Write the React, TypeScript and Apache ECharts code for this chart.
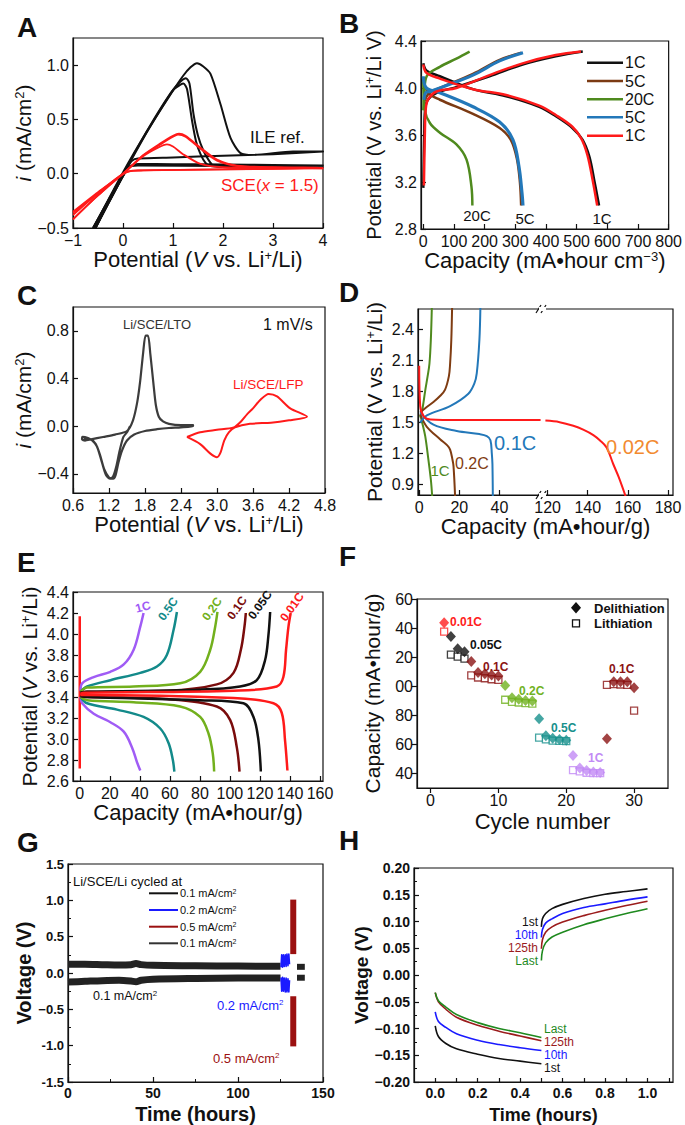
import React, { useEffect, useRef } from 'react';
import * as echarts from 'echarts';

const FONT = "'Liberation Sans', Arial, Helvetica, sans-serif";
const INK = '#111111';

// ===================== Panel A =====================
const A_X_TICKS = [-1, 0, 1, 2, 3, 4];
const A_Y_TICKS = [-0.5, 0, 0.5, 1.0];
const A_ILE_1 = [[-0.59,-0.5],[0.01,0.02],[0.48,0.39],[0.95,0.73],[1.2,0.9],[1.35,0.98],[1.48,1.018],[1.6,0.99],[1.75,0.92],[1.95,0.64],[2.15,0.33],[2.35,0.19],[2.6,0.172],[3.4,0.205],[4.0,0.205],[3.0,0.18],[2.0,0.165],[1.0,0.15],[0.3,0.14],[0.18,0.12],[0.08,0.05],[0.0,-0.02],[-0.3,-0.28],[-0.55,-0.5]];
const A_ILE_2 = [[-0.6,-0.5],[0,0],[0.5,0.41],[0.95,0.74],[1.15,0.85],[1.26,0.88],[1.33,0.83],[1.41,0.55],[1.5,0.35],[1.61,0.21],[1.72,0.12],[1.81,0.075],[2.2,0.06],[3,0.07],[4,0.075],[3,0.08],[2,0.085],[1,0.088],[0.3,0.09],[0.15,0.07],[0.05,0.02],[-0.55,-0.5]];
const A_ILE_3 = [[-0.6,-0.5],[0,-0.01],[0.5,0.4],[1.0,0.77],[1.15,0.82],[1.21,0.83],[1.28,0.78],[1.38,0.49],[1.46,0.3],[1.55,0.18],[1.65,0.1],[1.75,0.07],[2.5,0.055],[4,0.06],[2,0.07],[0.3,0.075],[0.1,0.05],[-0.55,-0.5]];
const A_SCE_1 = [[-1,-0.35],[-0.5,-0.17],[0,0],[0.4,0.17],[0.75,0.28],[1.0,0.35],[1.12,0.37],[1.25,0.35],[1.55,0.24],[1.88,0.13],[2.28,0.075],[3,0.06],[4,0.055],[3,0.045],[2,0.04],[0.4,0.03],[0.1,0.02],[-0.5,-0.2],[-1,-0.42]];
const A_SCE_2 = [[-1,-0.42],[-0.5,-0.2],[0,0],[0.4,0.16],[0.7,0.24],[0.88,0.27],[1.0,0.25],[1.2,0.18],[1.55,0.09],[2,0.06],[4,0.05],[2,0.04],[0.3,0.03],[0,0],[-0.5,-0.18],[-1,-0.36]];
const A_SCE_3 = [[-1,-0.38],[-0.5,-0.18],[0,0],[0.4,0.165],[0.75,0.27],[1.0,0.34],[1.1,0.36],[1.25,0.34],[1.55,0.23],[1.88,0.12],[2.3,0.07],[4,0.05]];

// ===================== Panel B =====================
const B_X_TICKS = [0, 100, 200, 300, 400, 500, 600, 700, 800];
const B_Y_TICKS = [2.8, 3.2, 3.6, 4.0, 4.4];
const B_1C_DIS_BLACK = [[0,4.21],[10,4.15],[54,4.1],[162,3.99],[270,3.93],[378,3.84],[432,3.76],[486,3.66],[519,3.56],[541,3.42],[557,3.22],[573,3.0]];
const B_1C_CH_BLACK = [[0,3.15],[3,3.6],[6,3.82],[15,3.9],[45,3.96],[110,4.01],[216,4.1],[324,4.2],[432,4.27],[520,4.31]];
const B_5C_DIS_BROWN = [[0,4.05],[20,3.95],[54,3.9],[162,3.78],[249,3.66],[285,3.56],[305,3.4],[315,3.2],[319,3.0]];
const B_5C_CH_BROWN = [[2,3.88],[20,3.96],[54,4.0],[162,4.12],[249,4.24],[320,4.3]];
const B_20C_DIS = [[0,4.07],[5,3.81],[22,3.7],[54,3.62],[108,3.52],[141,3.39],[157,3.16],[160,3.0]];
const B_20C_CH = [[0,3.81],[3,3.95],[11,4.1],[54,4.18],[108,4.25],[151,4.31]];
const B_5C_DIS_BLUE = [[0,4.1],[10,4.0],[54,3.96],[162,3.84],[249,3.71],[292,3.56],[312,3.33],[322,3.1],[325,3.0]];
const B_5C_CH_BLUE = [[2,3.9],[8,3.96],[22,3.97],[54,4.0],[162,4.11],[249,4.23],[325,4.3]];
const B_1C_DIS_RED = [[0,4.2],[10,4.13],[54,4.08],[162,3.99],[270,3.94],[378,3.85],[432,3.77],[486,3.67],[515,3.57],[535,3.43],[552,3.22],[567,3.0]];
const B_1C_CH_RED = [[2,3.17],[5,3.6],[8,3.82],[15,3.9],[43,3.97],[108,4.0],[216,4.11],[324,4.21],[432,4.28],[514,4.31]];
const B_LEGEND = ['1C', '5C', '20C', '5C', '1C'];

// ===================== Panel C =====================
const C_X_TICKS = [0.6, 1.2, 1.8, 2.4, 3.0, 3.6, 4.2, 4.8];
const C_Y_TICKS = [-0.4, 0, 0.4, 0.8];
const C_LTO = [[1.55,0.0],[1.5,-0.05],[1.44,-0.09],[1.38,-0.2],[1.32,-0.34],[1.27,-0.42],[1.22,-0.44],[1.15,-0.41],[1.08,-0.3],[1.0,-0.17],[0.92,-0.12],[0.85,-0.1],[0.76,-0.09],[0.75,-0.11],[0.8,-0.12],[0.9,-0.11],[1.1,-0.09],[1.3,-0.07],[1.5,-0.04],[1.6,0.05],[1.67,0.2],[1.72,0.38],[1.77,0.62],[1.81,0.76],[1.85,0.76],[1.89,0.6],[1.94,0.36],[1.98,0.18],[2.03,0.08],[2.1,0.04],[2.2,0.02],[2.4,0.01],[2.6,0.01],[2.6,0.0],[2.4,-0.01],[2.2,-0.015],[2.0,-0.025],[1.8,-0.04],[1.62,-0.07],[1.5,-0.12],[1.42,-0.2],[1.36,-0.3],[1.31,-0.41],[1.27,-0.44],[1.2,-0.43],[1.12,-0.36],[1.05,-0.24],[0.98,-0.15],[0.9,-0.11],[0.78,-0.1]];
const C_LFP = [[2.5,-0.09],[2.72,-0.15],[2.89,-0.23],[3.0,-0.26],[3.06,-0.22],[3.12,-0.12],[3.2,-0.05],[3.3,-0.01],[3.55,0.02],[3.9,0.03],[4.2,0.05],[4.5,0.08],[4.22,0.15],[4.0,0.25],[3.86,0.27],[3.72,0.22],[3.6,0.15],[3.5,0.1],[3.4,0.04],[3.28,-0.01],[3.0,-0.03],[2.72,-0.05],[2.5,-0.09]];

// ===================== Panel D =====================
const D_X_TICKS = [0, 20, 40, 120, 140, 160, 180];
const D_Y_TICKS = [0.9, 1.2, 1.5, 1.8, 2.1, 2.4];
const D_BREAK_FROM = 62;   // capacity where the axis is cut
const D_BREAK_TO = 118;    // capacity where it resumes
const D_1C_CH = [[0.5,1.55],[1.5,1.62],[3.0,1.81],[4.2,1.95],[5.1,2.07],[5.8,2.3],[6.3,2.62]];
const D_1C_DIS = [[0.5,1.58],[1.5,1.5],[3.0,1.37],[4.6,1.14],[5.8,0.95],[6.5,0.78]];
const D_02C_CH = [[0.5,1.6],[3,1.64],[7.1,1.7],[10.5,1.76],[12.9,1.82],[14.8,1.95],[15.4,2.07],[16,2.3],[16.4,2.62]];
const D_02C_DIS = [[0.5,1.58],[3.8,1.46],[10.4,1.34],[14,1.28],[15.4,1.24],[16.5,1.15],[17.1,1.08],[17.9,0.78]];
const D_01C_CH = [[0.5,1.5],[3.8,1.57],[15.4,1.66],[24.5,1.78],[27.5,1.88],[28.7,1.98],[30,2.3],[30.5,2.62]];
const D_01C_DIS = [[0.5,1.6],[7.1,1.48],[18.7,1.42],[30,1.39],[33.7,1.37],[35.5,1.33],[36.2,1.2],[36.5,1.1],[36.7,0.78]];
const D_002C_A = [[0,2.05],[0.5,1.66],[2.3,1.56],[5.6,1.53],[20,1.525],[40,1.525],[60.5,1.525]];
const D_002C_B = [[118.9,1.52],[126,1.505],[132.8,1.47],[138,1.43],[142.8,1.38],[146,1.33],[149.4,1.26],[152.7,1.1],[155.5,0.97],[159,0.78]];

// ===================== Panel E =====================
const E_X_TICKS = [0, 20, 40, 60, 80, 100, 120, 140, 160];
const E_Y_TICKS = [2.6, 2.8, 3.0, 3.2, 3.4, 3.6, 3.8, 4.0, 4.2, 4.4];
const E_1C_CH = [[0.5,3.46],[1.6,3.53],[9.3,3.59],[20.4,3.64],[29.3,3.71],[35.9,3.85],[40.3,4.07],[42.5,4.2]];
const E_1C_DIS = [[0.5,3.4],[1.6,3.34],[9.3,3.24],[20.4,3.16],[29.3,3.07],[34.8,2.92],[38.1,2.78],[40.3,2.7]];
const E_05C_CH = [[0.5,3.45],[4.9,3.5],[20.4,3.56],[40.3,3.63],[51.4,3.69],[58,3.8],[62.5,4.04],[64.7,4.21]];
const E_05C_DIS = [[0.5,3.4],[4.9,3.34],[24.8,3.28],[42.5,3.21],[53.6,3.1],[59.2,2.96],[62,2.8],[63,2.69]];
const E_02C_CH = [[0.5,3.45],[4.9,3.49],[35.9,3.5],[66.9,3.53],[80.2,3.64],[86.9,3.85],[90.2,4.07],[91.7,4.21]];
const E_02C_DIS = [[0.5,3.4],[4.9,3.37],[35.9,3.35],[66.9,3.31],[80.2,3.21],[85.8,3.05],[88.6,2.86],[89.5,2.69]];
const E_01C_CH = [[0.5,3.44],[4.9,3.45],[58,3.46],[91.3,3.52],[102.4,3.63],[107.3,3.85],[109.7,4.07],[110.6,4.2]];
const E_01C_DIS = [[0.5,3.41],[4.9,3.4],[58,3.38],[91.3,3.31],[100.2,3.18],[104.6,2.92],[106.4,2.69]];
const E_005C_CH = [[0.5,3.44],[4.9,3.45],[80.2,3.47],[106.8,3.5],[117.9,3.56],[123.4,3.75],[125.6,3.98],[126.8,4.21]];
const E_005C_DIS = [[0.5,3.41],[4.9,3.4],[80.2,3.37],[109,3.34],[115.7,3.21],[119,2.99],[120.6,2.69]];
const E_001C_CH = [[0.5,3.43],[2.7,3.44],[102.4,3.46],[131.2,3.5],[135.6,3.59],[137.4,3.85],[139,4.07],[140.5,4.2]];
const E_001C_DIS = [[0.5,3.42],[2.7,3.42],[102.4,3.39],[129,3.34],[134.5,3.25],[136.7,2.99],[138.3,2.7]];
const E_VERT = [[0,2.72],[0,4.17]];
const E_RATES = ['1C', '0.5C', '0.2C', '0.1C', '0.05C', '0.01C'];

// ===================== Panel F =====================
const F_X_TICKS = [0, 10, 20, 30];
const F_Y_TICKS = [40, 60, 80, 100, 120, 140, 160];
const F_CYCLES = [2,3,4,5,6,7,8,9,10,11,12,13,14,15,16,17,18,19,20,21,22,23,24,25,26,27,28,29,30];
const F_DELITH = [143.6,134.2,125.8,123.7,117,109.4,108.5,107.8,107,100.5,92,91,90.2,89.8,77.7,66,64.2,63.3,62.8,52.4,43.7,42.1,41,40.7,63.8,103,103,103,98.9];
const F_LITH = [137.6,121.7,120.3,119,107.5,106,105.5,104.8,104.4,90.7,89.3,88.8,88.4,88,64.7,63.5,62.6,62.4,62.2,42.3,41.4,40.5,40.3,40.3,101,101.4,101.2,101,83.2];
const F_RATE_GROUPS = [
  { first: 2, last: 2, rate: '0.01C' },
  { first: 3, last: 5, rate: '0.05C' },
  { first: 6, last: 10, rate: '0.1C' },
  { first: 11, last: 15, rate: '0.2C' },
  { first: 16, last: 20, rate: '0.5C' },
  { first: 21, last: 25, rate: '1C' },
  { first: 26, last: 30, rate: '0.1C' },
];

// ===================== Panel G =====================
const G_X_TICKS_INTERVAL = 50;
const G_BAND_UP = [[0,0.12],[10,0.12],[20,0.115],[30,0.11],[37,0.115],[40,0.13],[43,0.115],[50,0.105],[75,0.1],[100,0.095],[125,0.093]];
const G_BAND_DN = [[0,-0.125],[10,-0.115],[20,-0.105],[30,-0.1],[37,-0.11],[40,-0.12],[43,-0.1],[50,-0.085],[75,-0.075],[100,-0.07],[125,-0.07]];
const G_BLUE_UP = [[125.3,0.08],[125.7,0.25],[126.2,0.08],[126.7,0.25],[127.2,0.09],[127.8,0.25],[128.3,0.09],[128.8,0.26],[129.4,0.1],[129.9,0.26],[130.3,0.12]];
const G_BLUE_DN = [[125.3,-0.06],[125.7,-0.25],[126.2,-0.06],[126.7,-0.25],[127.2,-0.07],[127.8,-0.26],[128.3,-0.07],[128.8,-0.26],[129.4,-0.08],[129.9,-0.26],[130.3,-0.1]];
const G_RED_UP = [[132.5,0.26],[132.5,1.01]];
const G_RED_DN = [[132.5,-0.32],[132.5,-1.01]];
const G_END_UP = [[134.7,0.085],[139.3,0.085]];
const G_END_DN = [[134.7,-0.065],[139.3,-0.065]];
const G_LEGEND = ['0.1 mA/cm', '0.2 mA/cm', '0.5 mA/cm', '0.1 mA/cm'];

// ===================== Panel H =====================
const H_T_DIS = [0, 0.015, 0.05, 0.1, 0.2, 0.3, 0.4, 0.5];
const H_T_CH = [0.5, 0.505, 0.52, 0.55, 0.6, 0.7, 0.8, 0.9, 1.0];
const H_1ST_DIS = [-0.095,-0.115,-0.128,-0.138,-0.148,-0.156,-0.161,-0.166];
const H_10TH_DIS = [-0.069,-0.087,-0.098,-0.11,-0.122,-0.13,-0.136,-0.141];
const H_125TH_DIS = [-0.033,-0.05,-0.064,-0.079,-0.094,-0.105,-0.114,-0.123];
const H_LAST_DIS = [-0.033,-0.048,-0.06,-0.074,-0.089,-0.1,-0.108,-0.117];
const H_1ST_CH = [0.09,0.105,0.115,0.124,0.132,0.143,0.151,0.156,0.161];
const H_10TH_CH = [0.07,0.085,0.097,0.105,0.115,0.126,0.133,0.14,0.146];
const H_125TH_CH = [0.049,0.066,0.08,0.09,0.099,0.111,0.121,0.13,0.138];
const H_LAST_CH = [0.027,0.045,0.06,0.071,0.08,0.094,0.105,0.115,0.124];
const H_NAMES = ['1st', '10th', '125th', 'Last'];

// ===================== colours =====================
const RED = '#ff1a1a';
const B_COLORS = [INK, '#7b3a13', '#4f8a1e', '#2378b9', RED];
const D_COLORS = { c1: '#4f8a1e', c02: '#7f3c12', c01: '#2378b9', c002: RED, lab002: '#f28a30' };
const E_COLORS = ['#a05cf5', '#138a8a', '#72b01d', '#7a0c0c', INK, RED];
const F_COLORS: Record<string, string> = { '0.01C': '#ff2020', '0.05C': INK, '0.1C': '#8b1414', '0.2C': '#71b21f', '0.5C': '#17908c', '1C': '#c28af5' };
const G_COLORS = [INK, '#1a1aff', '#9b1010', '#333333'];
const H_COLORS = [INK, '#1a1aff', '#9b1c1c', '#1f8a1f'];

// ===================== helpers =====================
const minus = (s: string) => s.replace('-', '\u2212');
const f1 = (v: number) => minus((Math.round(v * 10) / 10).toFixed(1));
const f2 = (v: number) => minus((Math.round(v * 100) / 100).toFixed(2));

function nameStyle(size: number, weight = 'normal') {
  const base = { fontFamily: FONT, color: INK, fontWeight: weight };
  return {
    ...base, fontSize: size,
    rich: {
      i: { ...base, fontSize: size, fontStyle: 'italic' },
      s: { ...base, fontSize: Math.round(size * 0.6), verticalAlign: 'top' },
    },
  };
}

function ax(gridIndex: number, min: number, max: number, o: any = {}) {
  const base: any = {
    type: 'value', gridIndex, min, max,
    axisLine: { show: true, onZero: false, lineStyle: { color: INK, width: 1.2 } },
    axisTick: { show: true, inside: true, length: 5, lineStyle: { color: INK, width: 1.2 } },
    splitLine: { show: false },
    axisLabel: { color: INK, fontFamily: FONT, fontSize: 16, margin: 4 },
    nameLocation: 'middle',
  };
  return {
    ...base, ...o,
    axisLabel: { ...base.axisLabel, ...(o.axisLabel || {}) },
    axisTick: { ...base.axisTick, ...(o.axisTick || {}) },
  };
}

function custom(ticks: number[], fmt: (v: number) => string) {
  return {
    axisLabel: { customValues: ticks, formatter: fmt },
    axisTick: { customValues: ticks },
  };
}

function ln(idx: number, data: any[], color: string, width = 2, smooth: any = 0.3, extra: any = {}) {
  return {
    type: 'line', xAxisIndex: idx, yAxisIndex: idx, data, symbol: 'none', showSymbol: false,
    lineStyle: { color, width, join: 'round' }, itemStyle: { color }, smooth, silent: true, ...extra,
  };
}

function T(x: number, y: number, text: string, o: any = {}) {
  const color = o.color || INK;
  const size = o.size || 16;
  const weight = o.weight || 'normal';
  const style: any = {
    text, fill: color, fontFamily: FONT, fontSize: size, fontWeight: weight,
    textAlign: o.align || 'left', textVerticalAlign: o.va || 'middle',
    align: o.align || 'left', verticalAlign: o.va || 'middle',
    rich: {
      s: { fill: color, fontFamily: FONT, fontWeight: weight, fontSize: Math.round(size * 0.62), verticalAlign: 'top' },
      i: { fill: color, fontFamily: FONT, fontWeight: weight, fontSize: size, fontStyle: 'italic' },
    },
  };
  if (o.lineHeight) style.lineHeight = o.lineHeight;
  return { type: 'text', x, y, z: 100, silent: true, rotation: o.rotation || 0, style };
}

function L(x1: number, y1: number, x2: number, y2: number, color: string, width = 2) {
  return { type: 'line', z: 100, silent: true, shape: { x1, y1, x2, y2 }, style: { stroke: color, lineWidth: width } };
}

const dShift = (pts: number[][]) => pts.map(([x, y]) => [x >= D_BREAK_TO ? x - (D_BREAK_TO - D_BREAK_FROM) : x, y]);
const dLabel = (c: number) => String(Math.round(c > D_BREAK_FROM + 0.5 ? c + (D_BREAK_TO - D_BREAK_FROM) : c));
const fColor = (c: number) => {
  const g = F_RATE_GROUPS.find((r) => c >= r.first && c <= r.last);
  return g ? F_COLORS[g.rate] : INK;
};

function buildOption() {
  const grids = [
    { left: 73, top: 38, width: 250, height: 190 },   // A
    { left: 421, top: 41, width: 249, height: 188 },  // B
    { left: 73, top: 307, width: 252, height: 186 },  // C
    { left: 418, top: 309, width: 255, height: 186 }, // D
    { left: 73, top: 592, width: 250, height: 189 },  // E
    { left: 417, top: 599, width: 251, height: 189 }, // F
    { left: 68, top: 864, width: 255, height: 219 },  // G
    { left: 414, top: 868, width: 259, height: 214 }, // H
  ].map((g) => ({ ...g, show: true, borderColor: INK, borderWidth: 1.2, backgroundColor: 'transparent', containLabel: false }));

  const potItal = 'Potential ({i|V} vs. Li{s|+}/Li)';
  const curName = '{i|i} (mA/cm{s|2})';
  const D_X_C = D_X_TICKS.map((v) => (v >= D_BREAK_TO ? v - (D_BREAK_TO - D_BREAK_FROM) : v));

  const xAxis = [
    ax(0, -1, 4, { ...custom(A_X_TICKS, (v) => minus(String(v))), name: potItal, nameGap: 16, nameTextStyle: nameStyle(22) }),
    ax(1, -7.5, 800, { ...custom(B_X_TICKS, (v) => String(v)), name: 'Capacity (mA•hour cm{s|\u22123})', nameGap: 14, nameTextStyle: nameStyle(22) }),
    ax(2, 0.6, 4.8, { ...custom(C_X_TICKS, f1), name: potItal, nameGap: 20, nameTextStyle: nameStyle(22) }),
    ax(3, -0.6, 126.5, { ...custom(D_X_C, dLabel), name: 'Capacity (mA•hour/g)', nameGap: 19, nameTextStyle: nameStyle(22) }),
    ax(4, -4.5, 162, { ...custom(E_X_TICKS, (v) => String(v)), name: 'Capacity (mA•hour/g)', nameGap: 18, nameTextStyle: nameStyle(22) }),
    ax(5, -2, 35, { ...custom(F_X_TICKS, (v) => String(v)), name: 'Cycle number', nameGap: 22, nameTextStyle: nameStyle(22), axisTick: { inside: false, customValues: F_X_TICKS } }),
    ax(6, 0, 150, { interval: G_X_TICKS_INTERVAL, name: 'Time (hours)', nameGap: 22, nameTextStyle: nameStyle(20, 'bold'),
      axisLabel: { fontSize: 14, fontWeight: 'bold', showMaxLabel: true }, minorTick: { show: true, splitNumber: 2, length: 3, lineStyle: { color: INK } } }),
    ax(7, -0.1, 1.12, { interval: 0.1, name: 'Time (hours)', nameGap: 24, nameTextStyle: nameStyle(18, 'bold'),
      axisLabel: { fontSize: 14, fontWeight: 'bold', showMaxLabel: false, showMinLabel: false,
        formatter: (v: number) => { const k = Math.round(v * 10); return k >= 0 && k <= 10 && k % 2 === 0 ? (k / 10).toFixed(1) : ''; } },
      axisTick: { length: 4 } }),
  ];

  const yAxis = [
    ax(0, -0.5, 1.25, { ...custom(A_Y_TICKS, f1), name: curName, nameGap: 31, nameTextStyle: nameStyle(21) }),
    ax(1, 2.8, 4.4, { ...custom(B_Y_TICKS, f1), name: 'Potential (V vs. Li{s|+}/Li V)', nameGap: 37, nameTextStyle: nameStyle(20) }),
    ax(2, -0.56, 1.0, { ...custom(C_Y_TICKS, f1), name: curName, nameGap: 31, nameTextStyle: nameStyle(21) }),
    ax(3, 0.8, 2.6, { ...custom(D_Y_TICKS, f1), name: 'Potential (V vs. Li{s|+}/Li)', nameGap: 33, nameTextStyle: nameStyle(21) }),
    ax(4, 2.6, 4.4, { ...custom(E_Y_TICKS, f1), name: potItal, nameGap: 33, nameTextStyle: nameStyle(21) }),
    ax(5, 30, 160, { ...custom(F_Y_TICKS, (v) => String(v % 100).padStart(2, '0')), name: 'Capacity (mA•hour/g)', nameGap: 34, nameTextStyle: nameStyle(21), axisTick: { inside: false, customValues: F_Y_TICKS } }),
    ax(6, -1.5, 1.5, { interval: 0.5, name: 'Voltage (V)', nameGap: 30, nameTextStyle: nameStyle(20, 'bold'),
      axisLabel: { fontSize: 13, fontWeight: 'bold', formatter: (v: number) => (v < -0.9 ? (Math.round(v * 10) / 10).toFixed(1) : f1(v)) },
      minorTick: { show: true, splitNumber: 2, length: 3, lineStyle: { color: INK } } }),
    ax(7, -0.2, 0.2, { interval: 0.05, name: 'Voltage (V)', nameGap: 38, nameTextStyle: nameStyle(19, 'bold'),
      axisLabel: { fontSize: 14, fontWeight: 'bold', formatter: f2 },
      minorTick: { show: true, splitNumber: 2, length: 3, lineStyle: { color: INK } } }),
  ];

  const S = 0.35; // curve smoothing
  const series: any[] = [];
  // A
  [A_ILE_1, A_ILE_2, A_ILE_3].forEach((d) => series.push(ln(0, d, INK, 2, 0.25)));
  [A_SCE_1, A_SCE_2, A_SCE_3].forEach((d) => series.push(ln(0, d, RED, 1.8, 0.25)));
  // B
  series.push(ln(1, B_1C_DIS_BLACK, B_COLORS[0], 2.5, S));
  series.push(ln(1, B_1C_CH_BLACK, B_COLORS[0], 2.5, S));
  series.push(ln(1, B_5C_DIS_BROWN, B_COLORS[1], 2.5, S));
  series.push(ln(1, B_5C_CH_BROWN, B_COLORS[1], 2.5, S));
  series.push(ln(1, B_20C_DIS, B_COLORS[2], 2.5, S));
  series.push(ln(1, B_20C_CH, B_COLORS[2], 2.5, S));
  series.push(ln(1, B_5C_DIS_BLUE, B_COLORS[3], 3.2, S));
  series.push(ln(1, B_5C_CH_BLUE, B_COLORS[3], 3, S));
  series.push(ln(1, B_1C_DIS_RED, B_COLORS[4], 2.5, S));
  series.push(ln(1, B_1C_CH_RED, B_COLORS[4], 2.5, S));
  // C
  series.push(ln(2, C_LTO, '#3c3c3c', 2.2, 0.25));
  series.push(ln(2, C_LFP, RED, 2, 0.25));
  // D
  series.push(ln(3, D_1C_CH, D_COLORS.c1, 2, S));
  series.push(ln(3, D_1C_DIS, D_COLORS.c1, 2, S));
  series.push(ln(3, D_02C_CH, D_COLORS.c02, 2, S));
  series.push(ln(3, D_02C_DIS, D_COLORS.c02, 2, S));
  series.push(ln(3, D_01C_CH, D_COLORS.c01, 2, S));
  series.push(ln(3, D_01C_DIS, D_COLORS.c01, 2, S));
  series.push(ln(3, dShift(D_002C_A), D_COLORS.c002, 2, S));
  series.push(ln(3, dShift(D_002C_B), D_COLORS.c002, 2, S));
  // E
  series.push(ln(4, E_VERT, RED, 2.5, 0));
  [[E_1C_CH, E_1C_DIS], [E_05C_CH, E_05C_DIS], [E_02C_CH, E_02C_DIS], [E_01C_CH, E_01C_DIS], [E_005C_CH, E_005C_DIS], [E_001C_CH, E_001C_DIS]]
    .forEach((pair, i) => pair.forEach((d) => series.push(ln(4, d, E_COLORS[i], 2.5, S))));
  // F
  series.push({
    type: 'scatter', xAxisIndex: 5, yAxisIndex: 5, symbol: 'rect', symbolSize: 7, silent: true,
    data: F_CYCLES.map((c, i) => ({ value: [c, F_LITH[i]], itemStyle: { color: '#ffffff', borderColor: fColor(c), borderWidth: 1.3 } })),
  });
  series.push({
    type: 'scatter', xAxisIndex: 5, yAxisIndex: 5, symbol: 'diamond', symbolSize: [10, 11], silent: true,
    data: F_CYCLES.map((c, i) => ({ value: [c, F_DELITH[i]], itemStyle: { color: fColor(c) } })),
  });
  // G
  series.push(ln(6, G_BAND_UP, '#222222', 7, 0.3));
  series.push(ln(6, G_BAND_DN, '#222222', 7, 0.3));
  series.push(ln(6, G_BLUE_UP, G_COLORS[1], 1.6, 0));
  series.push(ln(6, G_BLUE_DN, G_COLORS[1], 1.6, 0));
  series.push(ln(6, G_RED_UP, G_COLORS[2], 6, 0));
  series.push(ln(6, G_RED_DN, G_COLORS[2], 6, 0));
  series.push(ln(6, G_END_UP, '#222222', 6, 0));
  series.push(ln(6, G_END_DN, '#222222', 6, 0));
  // H
  const hd = [H_1ST_DIS, H_10TH_DIS, H_125TH_DIS, H_LAST_DIS];
  const hc = [H_1ST_CH, H_10TH_CH, H_125TH_CH, H_LAST_CH];
  hd.forEach((ys, i) => series.push(ln(7, H_T_DIS.map((t, k) => [t, ys[k]]), H_COLORS[i], 1.6, S)));
  hc.forEach((ys, i) => series.push(ln(7, H_T_CH.map((t, k) => [t, ys[k]]), H_COLORS[i], 1.6, S)));

  const graphic: any[] = [];
  // panel letters
  [['A', 17, 27], ['B', 339, 23], ['C', 17, 295], ['D', 339, 292], ['E', 17, 562], ['F', 339, 556], ['G', 17, 842], ['H', 339, 840]]
    .forEach(([t, x, y]) => graphic.push(T(x as number, y as number, t as string, { size: 28, weight: 'bold' })));
  // A
  graphic.push(T(250, 137, 'ILE ref.', { size: 17 }));
  graphic.push(T(221, 185, 'SCE({i|x} = 1.5)', { size: 17, color: RED }));
  // B legend + labels
  const bRows = [62.7, 81, 99.3, 117.3, 135.7];
  B_LEGEND.forEach((t, i) => {
    graphic.push(L(587, bRows[i], 623, bRows[i], B_COLORS[i], 2.5));
    graphic.push(T(625, bRows[i], t, { size: 16 }));
  });
  graphic.push(T(477, 215, '20C', { size: 15, align: 'center' }));
  graphic.push(T(525, 218, '5C', { size: 15, align: 'center' }));
  graphic.push(T(602, 218, '1C', { size: 15, align: 'center' }));
  // C
  graphic.push(T(123, 324, 'Li/SCE/LTO', { size: 13, color: '#333333' }));
  graphic.push(T(263, 324, '1 mV/s', { size: 16 }));
  graphic.push(T(233, 384, 'Li/SCE/LFP', { size: 13.5, color: RED }));
  // D labels + axis break
  graphic.push(T(440, 470, '1C', { size: 15, color: D_COLORS.c1, align: 'center' }));
  graphic.push(T(455, 463, '0.2C', { size: 16, color: D_COLORS.c02 }));
  graphic.push(T(494, 443, '0.1C', { size: 20, color: D_COLORS.c01 }));
  graphic.push(T(606, 447, '0.02C', { size: 20, color: D_COLORS.lab002 }));
  [309, 495].forEach((y) => {
    graphic.push({ type: 'rect', z: 101, silent: true, shape: { x: 539, y: y - 2, width: 7, height: 4 }, style: { fill: '#ffffff' } });
    graphic.push(L(536, y + 4, 541, y - 4, INK, 1.2));
    graphic.push(L(541, y + 4, 546, y - 4, INK, 1.2));
  });
  // E rotated labels
  const ePos = [[143, 607, 0.25], [168, 609, 0.95], [212, 609, 0.95], [237, 608, 0.95], [260, 605, 0.95], [292, 607, 0.95]];
  E_RATES.forEach((t, i) => graphic.push(T(ePos[i][0], ePos[i][1], t, { size: 12, weight: 'bold', color: E_COLORS[i], align: 'center', rotation: ePos[i][2] })));
  // F annotations + legend
  const fLab = [[450, 622, '0.01C'], [470, 645, '0.05C'], [483, 667, '0.1C'], [519, 691, '0.2C'], [551, 728, '0.5C'], [588, 758, '1C'], [609, 669, '0.1C']];
  fLab.forEach(([x, y, t]) => graphic.push(T(x as number, y as number, t as string, { size: 12, weight: 'bold', color: F_COLORS[t as string] })));
  graphic.push({ type: 'polygon', z: 100, silent: true, shape: { points: [[576, 602], [581, 607.7], [576, 613.4], [571, 607.7]] }, style: { fill: INK } });
  graphic.push({ type: 'rect', z: 100, silent: true, shape: { x: 572.5, y: 619.8, width: 7, height: 7 }, style: { fill: '#ffffff', stroke: INK, lineWidth: 1.3 } });
  graphic.push(T(594, 608, 'Delithiation', { size: 13, weight: 'bold' }));
  graphic.push(T(594, 623, 'Lithiation', { size: 13, weight: 'bold' }));
  // G legend + annotations
  graphic.push(T(73, 881, 'Li/SCE/Li cycled at', { size: 13 }));
  const gRows = [893.3, 910, 926.7, 943.3];
  G_LEGEND.forEach((t, i) => {
    graphic.push(L(149, gRows[i], 178, gRows[i], G_COLORS[i], 2));
    graphic.push(T(180, gRows[i], t + '{s|2}', { size: 11 }));
  });
  graphic.push(T(93, 996, '0.1 mA/cm{s|2}', { size: 12.5 }));
  graphic.push(T(217, 1005, '0.2 mA/cm{s|2}', { size: 13, color: G_COLORS[1] }));
  graphic.push(T(213, 1058, '0.5 mA/cm{s|2}', { size: 13, color: G_COLORS[2] }));
  // H labels
  const hUp = [922, 935, 948, 961];
  const hDn = [1068, 1055, 1042, 1029];
  H_NAMES.forEach((t, i) => {
    graphic.push(T(538, hUp[i], t, { size: 12, lineHeight: 12, color: H_COLORS[i], align: 'right' }));
    graphic.push(T(544, hDn[i], t, { size: 12, lineHeight: 12, color: H_COLORS[i] }));
  });

  return { animation: false, backgroundColor: '#ffffff', grid: grids, xAxis, yAxis, series, graphic };
}

export default function App() {
  const ref = useRef<HTMLDivElement>(null);
  useEffect(() => {
    if (!ref.current) return;
    const chart = echarts.init(ref.current, undefined, { renderer: 'svg' });
    chart.setOption(buildOption() as any);
    return () => chart.dispose();
  }, []);
  return <div ref={ref} style={{ position: 'fixed', left: 0, top: 0, width: 685, height: 1125, background: '#fff' }} />;
}
